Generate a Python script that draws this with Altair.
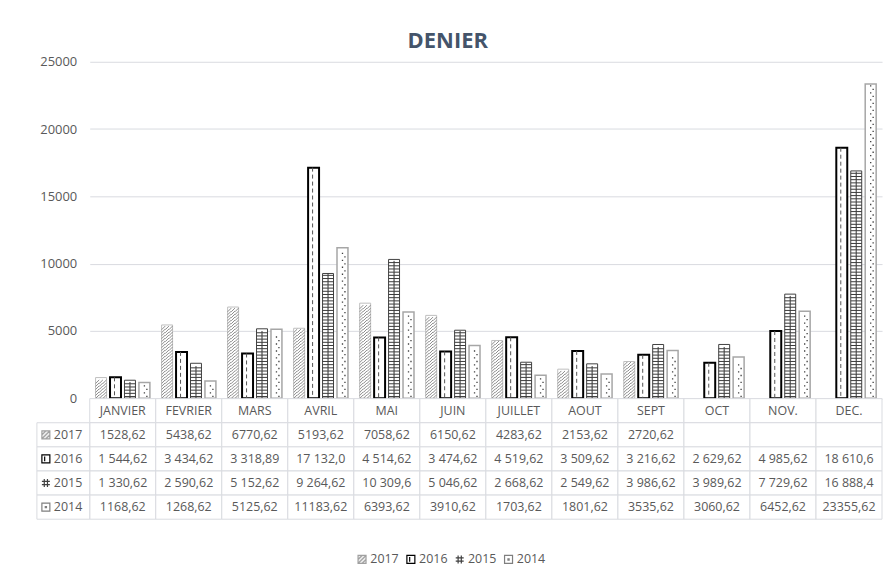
import altair as alt
import pandas as pd

# ---------------- data ----------------
months = ["JANVIER", "FEVRIER", "MARS", "AVRIL", "MAI", "JUIN", "JUILLET",
          "AOUT", "SEPT", "OCT", "NOV.", "DEC."]
years = ["2017", "2016", "2015", "2014"]

v2017 = [1528.62, 5438.62, 6770.62, 5193.62, 7058.62, 6150.62, 4283.62,
         2153.62, 2720.62, None, None, None]
v2016 = [1544.62, 3434.62, 3318.89, 17132.0, 4514.62, 3474.62, 4519.62,
         3509.62, 3216.62, 2629.62, 4985.62, 18610.6]
v2015 = [1330.62, 2590.62, 5152.62, 9264.62, 10309.6, 5046.62, 2668.62,
         2549.62, 3986.62, 3989.62, 7729.62, 16888.4]
v2014 = [1168.62, 1268.62, 5125.62, 11183.62, 6393.62, 3910.62, 1703.62,
         1801.62, 3535.62, 3060.62, 6452.62, 23355.62]

t2017 = ["1528,62", "5438,62", "6770,62", "5193,62", "7058,62", "6150,62",
         "4283,62", "2153,62", "2720,62", "", "", ""]
t2016 = ["1 544,62", "3 434,62", "3 318,89", "17 132,0", "4 514,62", "3 474,62",
         "4 519,62", "3 509,62", "3 216,62", "2 629,62", "4 985,62", "18 610,6"]
t2015 = ["1 330,62", "2 590,62", "5 152,62", "9 264,62", "10 309,6", "5 046,62",
         "2 668,62", "2 549,62", "3 986,62", "3 989,62", "7 729,62", "16 888,4"]
t2014 = ["1168,62", "1268,62", "5125,62", "11183,62", "6393,62", "3910,62",
         "1703,62", "1801,62", "3535,62", "3060,62", "6452,62", "23355,62"]

y_ticks = [0, 5000, 10000, 15000, 20000, 25000]

series = {"2017": v2017, "2016": v2016, "2015": v2015, "2014": v2014}
texts = {"2017": t2017, "2016": t2016, "2015": t2015, "2014": t2014}

rows = []
for yr in years:
    for m, v, t in zip(months, series[yr], texts[yr]):
        rows.append({"month": m, "year": yr, "value": v, "label": t})
df = pd.DataFrame(rows)

# ---------------- style ----------------
FONT = "Open Sans"
GRID = "#d9dbe0"
TXT = "#595959"
PLOT_W, PLOT_H = 795, 337.5
YMAX = 25000
U = YMAX / PLOT_H          # value units per pixel
BAR_W = 11
STEP = 14.5

# pattern tiles (custom symbol paths, unit box -1..1 -> BAR_W px)
hatch = "M-1,0.3333L-0.3333,-0.3333M-0.3333,0.3333L0.3333,-0.3333M0.3333,0.3333L1,-0.3333"
grid = "M-1,0L1,0M0,-0.3182L0,0.3182"
dots = "M-0.12,-0.45h0.24v0.24h-0.24ZM0.33,0.2h0.24v0.24h-0.24Z"

style = {
    "2017": dict(fill="#ffffff", stroke="#bfbfbf", sw=1, tile=hatch, tpx=3.0, tcol="#8c8c8c", filled=False),
    "2016": dict(fill="#ffffff", stroke="#000000", sw=2, tile=None),
    "2015": dict(fill="#ffffff", stroke="#404040", sw=1, tile=grid, tpx=3.2, tcol="#3a3a3a", filled=False),
    "2014": dict(fill="#ffffff", stroke="#a6a6a6", sw=1.5, tile=dots, tpx=7.0, tcol="#404040", filled=True),
}

# key symbols (legend + table)
key_paths = [
    "M-1,-1H1V1H-1ZM-1,0L0,-1M-1,1L1,-1M0,1L1,0",
    "M-1,-1H1V1H-1ZM-0.3,-0.6V0.6",
    "M-0.4,-1V1M0.4,-1V1M-1,-0.4H1M-1,0.4H1",
    "M-1,-1H1V1H-1ZM-0.15,-0.15H0.15V0.15H-0.15Z",
]
key_fill = ["#ededed", "#ffffff", "#ffffff", "#ffffff"]
key_stroke = ["#a0a0a0", "#000000", "#404040", "#7f7f7f"]

x_enc = alt.X("month:N", sort=months,
              scale=alt.Scale(domain=months, paddingInner=0, paddingOuter=0), axis=None)
y_scale = alt.Scale(domain=[0, YMAX], nice=False)
y_axis = alt.Axis(values=y_ticks, title=None, grid=True, gridColor=GRID, gridWidth=1,
                  domain=False, ticks=False, labelPadding=13, labelFont=FONT,
                  labelFontSize=13, labelColor=TXT, minExtent=77, maxExtent=77, format="d")

base = alt.Chart(df)
layers = []
for i, yr in enumerate(years):
    off = (i - 1.5) * STEP
    s = style[yr]
    src = base.transform_filter(f"datum.year == '{yr}' && isValid(datum.value)")
    layers.append(
        src.mark_bar(width=BAR_W, xOffset=off, fill=s["fill"], stroke=s["stroke"],
                     strokeWidth=s["sw"]).encode(
            x=x_enc, y=alt.Y("value:Q", scale=y_scale, axis=y_axis))
    )
    if s["tile"]:
        tstep = s["tpx"] * U
        tiles = src.transform_calculate(
            ty=f"sequence({tstep / 2}, datum.value - {tstep / 2} + 1, {tstep})"
        ).transform_flatten(["ty"])
        if s["filled"]:
            mk = tiles.mark_point(shape=s["tile"], size=BAR_W ** 2, xOffset=off, filled=True,
                                  fill=s["tcol"], strokeWidth=0, opacity=1)
        else:
            mk = tiles.mark_point(shape=s["tile"], size=BAR_W ** 2, xOffset=off, filled=False,
                                  stroke=s["tcol"], strokeWidth=1, opacity=1)
        layers.append(mk.encode(x=x_enc, y=alt.Y("ty:Q", scale=y_scale, axis=y_axis)))
    if yr == "2016":
        layers.append(
            src.mark_rule(xOffset=off - 1, strokeDash=[4, 3], color="#555555", strokeWidth=1).encode(
                x=x_enc, y=alt.Y("value:Q", scale=y_scale, axis=y_axis), y2=alt.datum(0))
        )

shape_scale = alt.Scale(domain=years, range=key_paths)
fill_scale = alt.Scale(domain=years, range=key_fill)
stroke_scale = alt.Scale(domain=years, range=key_stroke)
leg = alt.Legend(orient="none", legendX=267, legendY=493, direction="horizontal", title=None,
                 symbolSize=64, symbolStrokeWidth=1.2, labelFont=FONT, labelFontSize=12.5,
                 labelColor=TXT, columnPadding=4, labelOffset=2)
layers.append(
    base.transform_filter("false").mark_point(opacity=1, filled=True).encode(
        shape=alt.Shape("year:N", scale=shape_scale, legend=leg),
        fill=alt.Fill("year:N", scale=fill_scale, legend=leg),
        stroke=alt.Stroke("year:N", scale=stroke_scale, legend=leg),
    )
)

top = alt.layer(*layers).properties(width=PLOT_W, height=PLOT_H)

# ---------------- table ----------------
rows_dom = ["head"] + years
head_df = pd.DataFrame({"month": months, "row": ["head"] * len(months), "label": months})
body_df = df.rename(columns={"year": "row"})[["month", "row", "label"]]
tab_df = pd.concat([head_df, body_df], ignore_index=True)
lab_df = pd.DataFrame({"row": years})

ROW_H = 24.2
tx = alt.X("month:N", sort=months,
           scale=alt.Scale(domain=months, paddingInner=0, paddingOuter=0), axis=None)
ty = alt.Y("row:N", sort=rows_dom,
           scale=alt.Scale(domain=rows_dom, paddingInner=0, paddingOuter=0), axis=None)
col_c = PLOT_W / len(months) / 2   # center of first column, px from plot left

cells = alt.Chart(tab_df).mark_rect(fill="white", stroke=GRID, strokeWidth=1).encode(x=tx, y=ty)
cell_txt = alt.Chart(tab_df).mark_text(font=FONT, fontSize=12.5, color=TXT).encode(
    x=tx, y=ty, text="label:N")
lab_cells = alt.Chart(lab_df).mark_rect(width=53, xOffset=-(col_c + 26.5), fill="white",
                                        stroke=GRID, strokeWidth=1).encode(
    x=alt.X(datum="JANVIER"), y=ty)
lab_txt = alt.Chart(lab_df).mark_text(font=FONT, fontSize=12.5, color=TXT, align="left",
                                      xOffset=-(col_c + 36)).encode(
    x=alt.X(datum="JANVIER"), y=ty, text="row:N")
lab_key = alt.Chart(lab_df).mark_point(size=64, opacity=1, filled=True, strokeWidth=1.2,
                                       xOffset=-(col_c + 44)).encode(
    x=alt.X(datum="JANVIER"), y=ty,
    shape=alt.Shape("row:N", scale=shape_scale, legend=None),
    fill=alt.Fill("row:N", scale=fill_scale, legend=None),
    stroke=alt.Stroke("row:N", scale=stroke_scale, legend=None))

table = alt.layer(cells, cell_txt, lab_cells, lab_txt, lab_key).properties(
    width=PLOT_W, height=ROW_H * len(rows_dom))

chart = alt.vconcat(top, table, spacing=0, bounds="flush").properties(
    title=alt.Title("DENIER", font=FONT, fontSize=22, fontWeight="bold", color="#44546A",
                    anchor="middle", offset=3),
    padding={"left": 5, "top": 21, "right": 5, "bottom": 5},
).configure_view(stroke=None)

chart.save("out.html", embed_options={"renderer": "svg", "actions": False})
